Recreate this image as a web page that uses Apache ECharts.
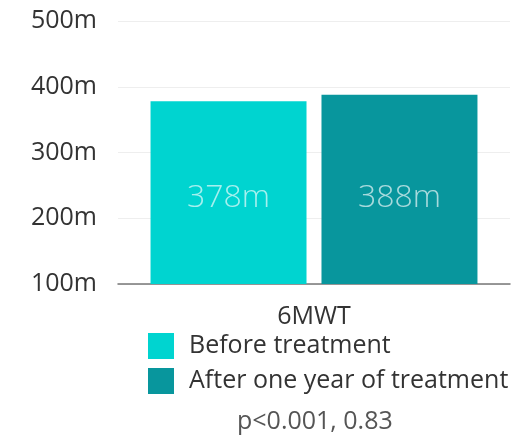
<!DOCTYPE html>
<html>
<head>
<meta charset="utf-8">
<script src="https://cdn.jsdelivr.net/npm/echarts@6/dist/echarts.min.js"></script>
<style>
  html, body { margin: 0; padding: 0; background: #fff; }
  #main { width: 528px; height: 441px; }
</style>
</head>
<body>
<div id="main"></div>
<script>
// 6MWT 数据
const categories = ['6MWT'];
const seriesNames = ['Before treatment', 'After one year of treatment'];
const beforeValues = [378];
const afterValues = [388];
const pValueText = 'p<0.001, 0.83';

const chart = echarts.init(document.getElementById('main'));

const font = 'Open Sans';

const makeLabel = (dy) => ({
  show: true,
  position: 'inside',
  offset: [0, dy],
  formatter: '{c}m',
  color: 'rgba(255,255,255,0.65)',
  fontSize: 32,
  fontWeight: 300,
  fontFamily: font,
});

const option = {
  animation: false,
  color: ['#00D4D0', '#08969D'],
  title: {
    text: pValueText,
    left: 232,
    top: 404,
    textStyle: { fontSize: 25, fontWeight: 'normal', color: '#555', fontFamily: font },
  },
  legend: {
    orient: 'vertical',
    left: 143,
    top: 328,
    itemWidth: 26,
    itemHeight: 26,
    itemGap: 9,
    icon: 'rect',
    textStyle: { fontSize: 25, color: '#333', fontFamily: font, padding: [2, 0, 0, 10] },
    data: seriesNames,
  },
  grid: {
    left: 118,
    right: 18,
    top: 21,
    bottom: 157,
  },
  xAxis: {
    type: 'category',
    data: categories,
    axisTick: { show: false },
    axisLine: { lineStyle: { color: '#777', width: 1.5 } },
    axisLabel: { fontSize: 25, color: '#333', fontFamily: font, margin: 20 },
  },
  yAxis: {
    type: 'value',
    min: 100,
    max: 500,
    interval: 100,
    axisLabel: { formatter: '{value}m', fontSize: 25, color: '#333', fontFamily: font, margin: 21 },
    splitLine: { lineStyle: { color: '#eee' } },
  },
  series: [
    {
      name: seriesNames[0],
      type: 'bar',
      data: beforeValues,
      barGap: '9.6%',
      barCategoryGap: '16.6%',
      label: makeLabel(5),
    },
    {
      name: seriesNames[1],
      type: 'bar',
      data: afterValues,
      label: makeLabel(9),
    },
  ],
};

chart.setOption(option);
</script>
</body>
</html>
